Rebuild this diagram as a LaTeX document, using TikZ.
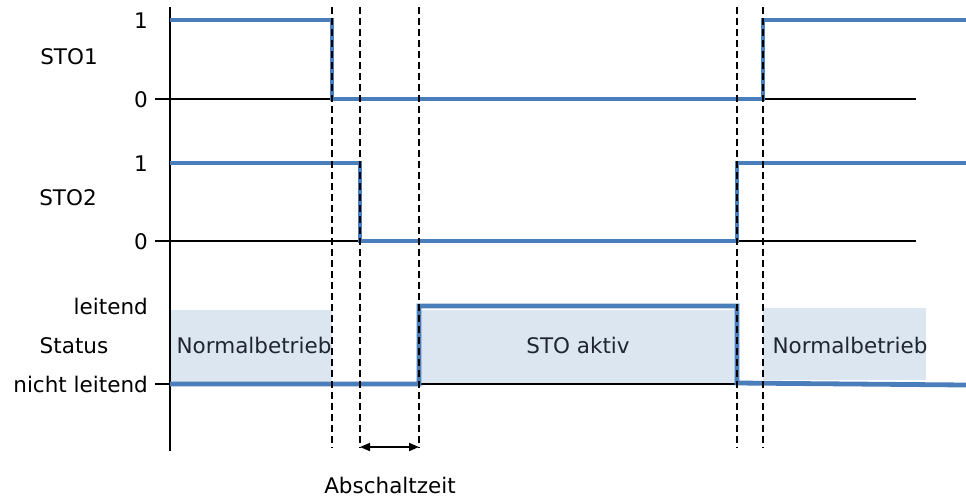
\documentclass[tikz,border=0pt]{standalone}
\usepackage{fontspec}
\setmainfont{DejaVu Sans}
\usetikzlibrary{positioning, arrows.meta}
\definecolor{sigblue}{RGB}{74,126,187}
\definecolor{areafill}{RGB}{220,230,241}
\definecolor{areatext}{RGB}{30,38,50}
\tikzset{
  signal/.style={draw=sigblue, line width=4.8pt, line join=miter},
  axisline/.style={draw=black, line width=1.8pt},
  marker/.style={draw=black, line width=2pt, dash pattern=on 7pt off 4pt},
  levellabel/.style={font=\fontsize{21.5}{26}\selectfont, anchor=base east, inner sep=0pt},
  signame/.style={font=\fontsize{21.5}{26}\selectfont, anchor=base, inner sep=0pt},
  phase/.style={fill=areafill, draw=none},
  phasetext/.style={font=\fontsize{21.5}{26}\selectfont, text=areatext, anchor=base, inner sep=0pt},
  span/.style={{Triangle[length=10pt,width=8pt]}-{Triangle[length=10pt,width=8pt]}, line width=1.8pt},
}

\begin{document}
\begin{tikzpicture}[x=1pt, y=-1pt]
  \useasboundingbox (0,0) rectangle (966,499);

  % shaded phases
  \fill[phase] (170,310) rectangle (332,383);
  \fill[phase] (419,310) rectangle (737,384);
  \fill[phase] (763,308) rectangle (926,380);
  \node[phasetext] (norm1) at (254,353) {Normalbetrieb};
  \node[phasetext] (active) at (578,353) {STO aktiv};
  \node[phasetext] (norm2) at (850,353) {Normalbetrieb};

  % axis and level lines
  \draw[axisline] (170,7) -- (170,451);
  \draw[axisline] (155,99) -- (916,99);
  \draw[axisline] (155,241) -- (916,241);
  \draw[axisline] (155,384) -- (737,384);

  % level labels
  \node[levellabel] (sa one) at (148,28) {1};
  \node[levellabel] (sa zero) at (148,107) {0};
  \node[levellabel] (sb one) at (148,171) {1};
  \node[levellabel] (sb zero) at (148,249) {0};
  \node[levellabel] (st on) at (148,314) {leitend};
  \node[levellabel] (st off) at (148,392) {nicht leitend};
  \node[signame] (sto1) at (69,64) {STO1};
  \node[signame] (sto2) at (68,205) {STO2};
  \node[signame] (status) at (74,353) {Status};

  % signals
  \draw[signal] (170,20) -- (332,20) -- (332,99) -- (763,99) -- (763,20) -- (966,20);
  \draw[signal] (170,163) -- (360,163) -- (360,241) -- (737,241) -- (737,163) -- (966,163);
  \draw[signal] (170,384) -- (419,384) -- (419,306) -- (737,306) -- (737,383) -- (966,385);

  % time markers
  \foreach \x/\n in {332/ma, 360/mb, 419/mc, 737/md, 763/me} {
    \coordinate (\n top) at (\x,7);
    \coordinate (\n bot) at (\x,448);
    \draw[marker] (\n top) -- (\n bot);
  }
  \coordinate (mb arr) at (360,447);
  \coordinate (mc arr) at (419,447);
  \draw[span] (mb arr) -- (mc arr);
  \node[signame] (offtime) at (390,493) {Abschaltzeit};
\end{tikzpicture}
\end{document}
